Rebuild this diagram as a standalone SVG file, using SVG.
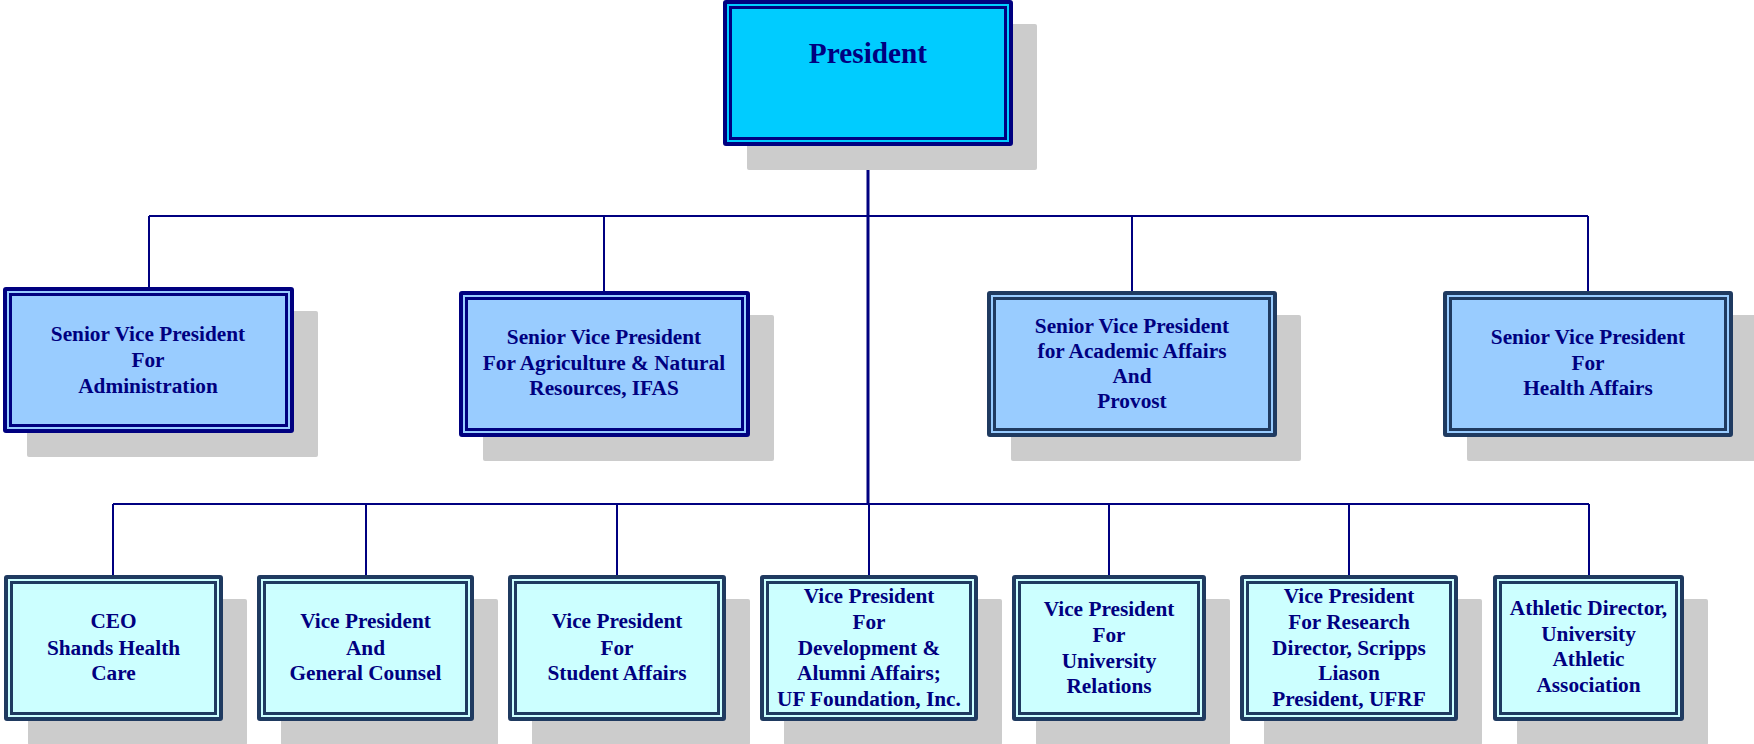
<svg xmlns="http://www.w3.org/2000/svg" width="1754" height="744" viewBox="0 0 1754 744">
<style>
.sh{fill:#CCCCCC}
.o{stroke-width:4}
.i{fill:none;stroke-width:3}
.nv{stroke:#000080}
.sl{stroke:#1F3A60}
.p{fill:#00CCFF}
.b{fill:#99CCFF}
.c{fill:#CCFFFF}
text{font-family:"Liberation Serif","Times New Roman",serif;font-weight:bold;fill:#000080;text-anchor:middle;font-size:21.3px}
.t{font-size:29.3px}
.ln{stroke:#000080;fill:none;stroke-width:2}
.tr{stroke:#000080;fill:none;stroke-width:3}
</style>
<rect width="1754" height="744" fill="#FFFFFF"/>
<g id="connectors">
<path class="ln" d="M149 216H1588M149 216V287M604 216V291M1132 216V291M1588 216V291"/>
<path class="ln" d="M113 504H1589M113 504V575M366 504V575M617 504V575M1109 504V575M1349 504V575M1589 504V575"/>
<path class="tr" d="M868 146V504"/>
<path class="ln" d="M869 504V575"/>
</g>
<g id="president">
<rect class="sh" x="747" y="24" width="290" height="146" rx="2"/>
<rect class="p o nv" x="725" y="2" width="286" height="142" rx="1"/>
<rect class="i nv" x="730.5" y="7.5" width="275" height="131"/>
<text class="t" x="868" y="63">President</text>
</g>
<g id="svp-admin">
<rect class="sh" x="27" y="311" width="291" height="146" rx="2"/>
<rect class="b o nv" x="5" y="289" width="287" height="142" rx="1"/>
<rect class="i nv" x="10.5" y="294.5" width="276" height="131"/>
<text x="148" y="341">Senior Vice President</text>
<text x="148" y="367">For</text>
<text x="148" y="393">Administration</text>
</g>
<g id="svp-agriculture">
<rect class="sh" x="483" y="315" width="291" height="146" rx="2"/>
<rect class="b o nv" x="461" y="293" width="287" height="142" rx="1"/>
<rect class="i nv" x="466.5" y="298.5" width="276" height="131"/>
<text x="604" y="344">Senior Vice President</text>
<text x="604" y="370">For Agriculture &amp; Natural</text>
<text x="604" y="395">Resources, IFAS</text>
</g>
<g id="svp-academic">
<rect class="sh" x="1011" y="315" width="290" height="146" rx="2"/>
<rect class="b o sl" x="989" y="293" width="286" height="142" rx="1"/>
<rect class="i sl" x="994.5" y="298.5" width="275" height="131"/>
<text x="1132" y="333">Senior Vice President</text>
<text x="1132" y="358">for Academic Affairs</text>
<text x="1132" y="383">And</text>
<text x="1132" y="408">Provost</text>
</g>
<g id="svp-health">
<rect class="sh" x="1467" y="315" width="290" height="146" rx="2"/>
<rect class="b o sl" x="1445" y="293" width="286" height="142" rx="1"/>
<rect class="i sl" x="1450.5" y="298.5" width="275" height="131"/>
<text x="1588" y="344">Senior Vice President</text>
<text x="1588" y="370">For</text>
<text x="1588" y="395">Health Affairs</text>
</g>
<g id="ceo-shands">
<rect class="sh" x="28" y="599" width="219" height="146" rx="2"/>
<rect class="c o sl" x="6" y="577" width="215" height="142" rx="1"/>
<rect class="i sl" x="11.5" y="582.5" width="204" height="131"/>
<text x="113.5" y="628">CEO</text>
<text x="113.5" y="655">Shands Health</text>
<text x="113.5" y="680">Care</text>
</g>
<g id="vp-counsel">
<rect class="sh" x="281" y="599" width="217" height="146" rx="2"/>
<rect class="c o sl" x="259" y="577" width="213" height="142" rx="1"/>
<rect class="i sl" x="264.5" y="582.5" width="202" height="131"/>
<text x="365.5" y="628">Vice President</text>
<text x="365.5" y="655">And</text>
<text x="365.5" y="680">General Counsel</text>
</g>
<g id="vp-student">
<rect class="sh" x="532" y="599" width="218" height="146" rx="2"/>
<rect class="c o sl" x="510" y="577" width="214" height="142" rx="1"/>
<rect class="i sl" x="515.5" y="582.5" width="203" height="131"/>
<text x="617" y="628">Vice President</text>
<text x="617" y="655">For</text>
<text x="617" y="680">Student Affairs</text>
</g>
<g id="vp-development">
<rect class="sh" x="784" y="599" width="218" height="146" rx="2"/>
<rect class="c o sl" x="762" y="577" width="214" height="142" rx="1"/>
<rect class="i sl" x="767.5" y="582.5" width="203" height="131"/>
<text x="869" y="603">Vice President</text>
<text x="869" y="629">For</text>
<text x="869" y="655">Development &amp;</text>
<text x="869" y="680">Alumni Affairs;</text>
<text x="869" y="706">UF Foundation, Inc.</text>
</g>
<g id="vp-university-relations">
<rect class="sh" x="1036" y="599" width="194" height="146" rx="2"/>
<rect class="c o sl" x="1014" y="577" width="190" height="142" rx="1"/>
<rect class="i sl" x="1019.5" y="582.5" width="179" height="131"/>
<text x="1109" y="616">Vice President</text>
<text x="1109" y="642">For</text>
<text x="1109" y="668">University</text>
<text x="1109" y="693">Relations</text>
</g>
<g id="vp-research">
<rect class="sh" x="1264" y="599" width="218" height="146" rx="2"/>
<rect class="c o sl" x="1242" y="577" width="214" height="142" rx="1"/>
<rect class="i sl" x="1247.5" y="582.5" width="203" height="131"/>
<text x="1349" y="603">Vice President</text>
<text x="1349" y="629">For Research</text>
<text x="1349" y="655">Director, Scripps</text>
<text x="1349" y="680">Liason</text>
<text x="1349" y="706">President, UFRF</text>
</g>
<g id="athletic-director">
<rect class="sh" x="1517" y="599" width="191" height="146" rx="2"/>
<rect class="c o sl" x="1495" y="577" width="187" height="142" rx="1"/>
<rect class="i sl" x="1500.5" y="582.5" width="176" height="131"/>
<text x="1588.5" y="615">Athletic Director,</text>
<text x="1588.5" y="641">University</text>
<text x="1588.5" y="666">Athletic</text>
<text x="1588.5" y="692">Association</text>
</g>
</svg>
